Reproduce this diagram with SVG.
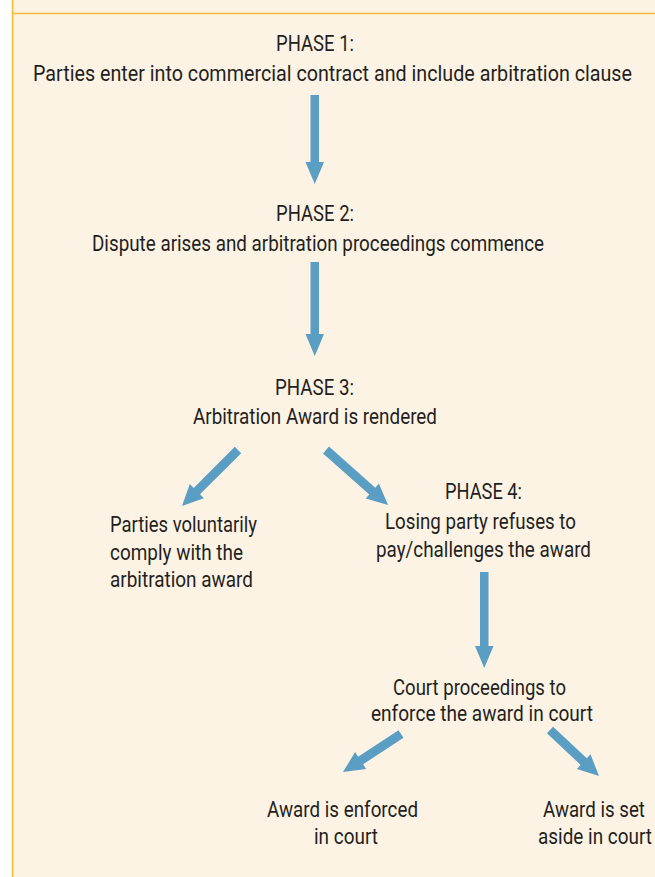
<svg xmlns="http://www.w3.org/2000/svg" width="655" height="877" viewBox="0 0 655 877">
<style>
text{font-family:Roboto,"Liberation Sans",sans-serif;font-size:22px;fill:#231f20}
.m{text-anchor:middle}
.arr{fill:#5a9ec4}
</style>
<rect x="0" y="0" width="655" height="877" fill="#ffffff"/>
<rect x="12" y="0" width="643" height="877" fill="#fdf3e5"/>
<line x1="12.5" y1="0" x2="12.5" y2="877" stroke="#fbb73a" stroke-width="1.5"/>
<line x1="12" y1="13.5" x2="655" y2="13.5" stroke="#fbb73a" stroke-width="1.5"/>
<g id="connectors">
<polygon class="arr" points="310.5,95 319,95 319,162 324,162 314.75,184 305.5,162 310.5,162"/>
<polygon class="arr" points="310.5,262 319,262 319,334 324,334 314.75,356 305.5,334 310.5,334"/>
<polygon class="arr" points="234.8,446.8 193.7,488 189.8,484.1 182,506 203.9,498.2 200,494.3 241.2,453.2"/>
<polygon class="arr" points="323,453.4 369.3,494.5 365.7,498.6 388,505 378.9,483.6 375.3,487.7 329,446.6"/>
<polygon class="arr" points="480,572 488.5,572 488.5,646 493.5,646 484.25,668 475,646 480,646"/>
<polygon class="arr" points="398.5,730.2 358.1,756.7 355.1,752.1 343,772 366.1,768.9 363.1,764.3 403.5,737.8"/>
<polygon class="arr" points="546.9,733.3 580.6,764.9 576.9,768.9 599,776 590.5,754.3 586.8,758.3 553.1,726.7"/>
</g>
<g transform="scale(0.87 1)">
<g id="phase1">
<text class="m" x="362.07" y="51" textLength="89.66" lengthAdjust="spacingAndGlyphs">PHASE 1:</text>
<text class="m" x="382.18" y="81" textLength="688.51" lengthAdjust="spacingAndGlyphs">Parties enter into commercial contract and include arbitration clause</text>
</g>
<g id="phase2">
<text class="m" x="362.07" y="221" textLength="89.66" lengthAdjust="spacingAndGlyphs">PHASE 2:</text>
<text class="m" x="365.52" y="251" textLength="519.54" lengthAdjust="spacingAndGlyphs">Dispute arises and arbitration proceedings commence</text>
</g>
<g id="phase3">
<text class="m" x="361.49" y="395" textLength="90.8" lengthAdjust="spacingAndGlyphs">PHASE 3:</text>
<text class="m" x="362.07" y="424" textLength="280.46" lengthAdjust="spacingAndGlyphs">Arbitration Award is rendered</text>
</g>
<g id="comply">
<text x="126.44" y="532" textLength="168.97" lengthAdjust="spacingAndGlyphs">Parties voluntarily</text>
<text x="126.44" y="560" textLength="152.87" lengthAdjust="spacingAndGlyphs">comply with the</text>
<text x="126.44" y="587" textLength="164.37" lengthAdjust="spacingAndGlyphs">arbitration award</text>
</g>
<g id="phase4">
<text class="m" x="555.75" y="499" textLength="88.51" lengthAdjust="spacingAndGlyphs">PHASE 4:</text>
<text class="m" x="552.3" y="529" textLength="219.54" lengthAdjust="spacingAndGlyphs">Losing party refuses to</text>
<text class="m" x="555.75" y="557" textLength="247.13" lengthAdjust="spacingAndGlyphs">pay/challenges the award</text>
</g>
<g id="court">
<text class="m" x="551.15" y="695" textLength="198.85" lengthAdjust="spacingAndGlyphs">Court proceedings to</text>
<text class="m" x="554.02" y="721" textLength="255.17" lengthAdjust="spacingAndGlyphs">enforce the award in court</text>
</g>
<g id="enforced">
<text class="m" x="393.68" y="817" textLength="173.56" lengthAdjust="spacingAndGlyphs">Award is enforced</text>
<text class="m" x="397.7" y="844" textLength="73.56" lengthAdjust="spacingAndGlyphs">in court</text>
</g>
<g id="setaside">
<text class="m" x="682.76" y="817" textLength="117.24" lengthAdjust="spacingAndGlyphs">Award is set</text>
<text class="m" x="683.91" y="844" textLength="131.03" lengthAdjust="spacingAndGlyphs">aside in court</text>
</g>
</g>
</svg>
